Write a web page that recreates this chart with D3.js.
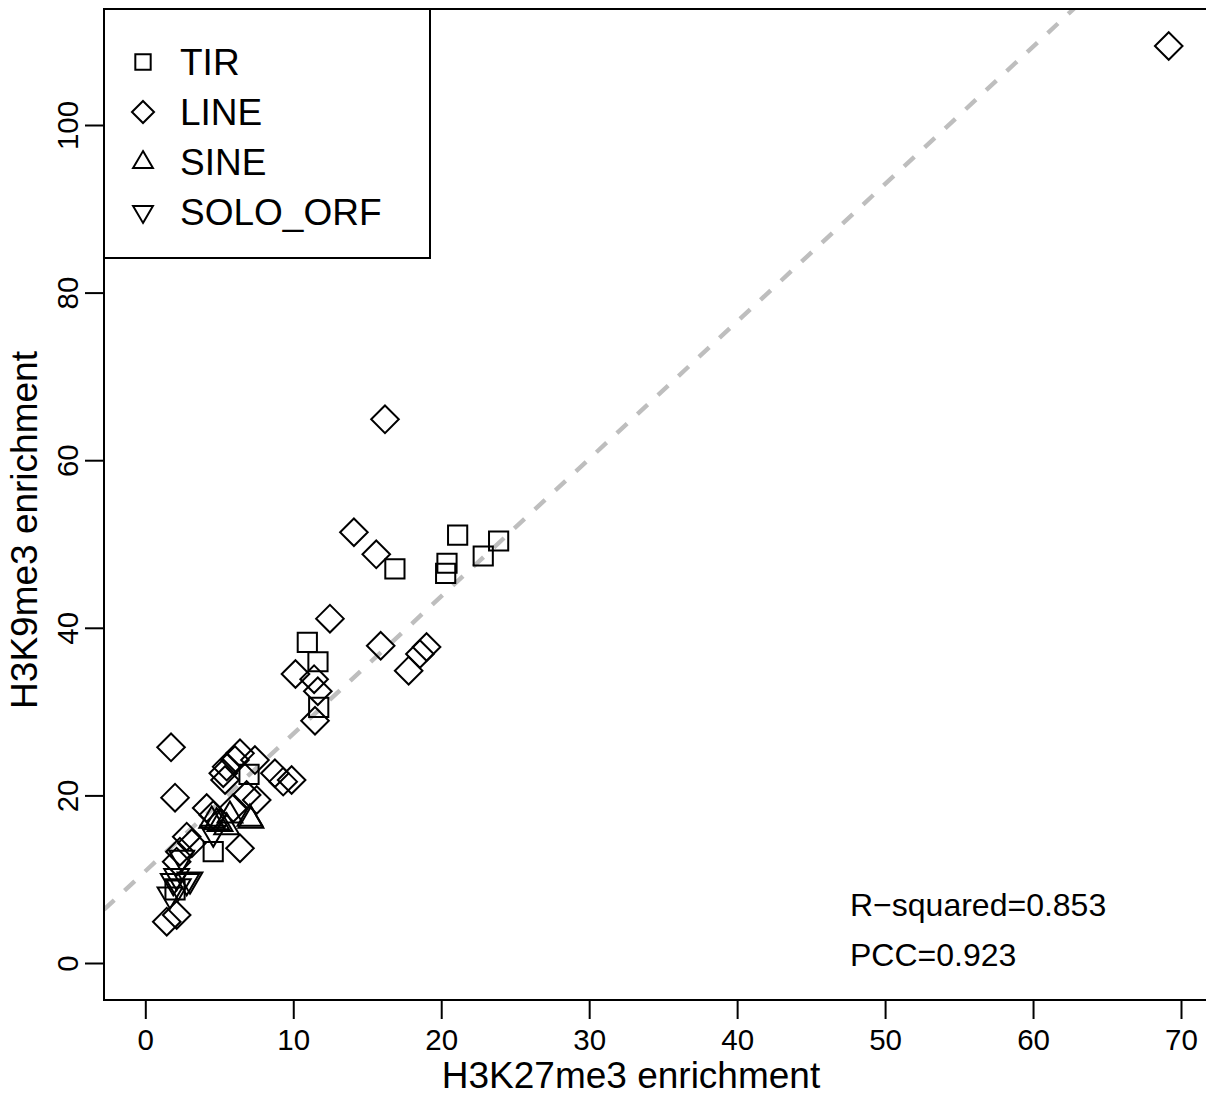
<!DOCTYPE html>
<html>
<head>
<meta charset="utf-8">
<script src="https://cdn.jsdelivr.net/npm/d3@7"></script>
<style>
  html, body { margin: 0; padding: 0; background: #fff; }
  svg { display: block; }
  text { font-family: "Liberation Sans", Arial, Helvetica, sans-serif; fill: #000; }
</style>
</head>
<body>
<svg id="chart" width="1206" height="1096"></svg>
<script>
// H3K27me3 vs H3K9me3 enrichment per transposon family
const seriesNames = ["TIR", "LINE", "SINE", "SOLO_ORF"];

const tirX = [21.11, 20.39, 20.30, 22.84, 23.88, 16.87, 10.95, 11.67, 11.72, 7.01, 4.59, 2.01];
const tirY = [51.07, 47.70, 46.50, 48.57, 50.36, 47.02, 38.27, 35.95, 30.51, 22.52, 13.28, 8.71];

const lineX = [69.17, 16.20, 14.10, 15.61, 12.48, 15.91, 19.01, 18.56, 17.80, 10.15, 11.41, 11.66,
               11.47, 1.74, 2.01, 6.40, 6.06, 7.41, 5.27, 5.50, 8.76, 9.32, 9.89, 6.85, 7.53,
               5.39, 4.15, 5.95, 6.40, 2.80, 3.14, 2.34, 2.12, 1.45, 2.12, 4.59];
const lineY = [109.43, 64.88, 51.40, 48.77, 41.09, 37.86, 37.71, 36.87, 34.88, 34.49, 33.87, 32.43,
               28.91, 25.74, 19.73, 25.02, 24.22, 24.22, 22.64, 23.43, 22.64, 21.64, 21.84, 20.05, 19.45,
               21.84, 18.50, 18.50, 13.69, 15.07, 14.28, 13.28, 12.09, 4.93, 5.73, 17.66];

const sineX = [7.07, 7.14, 4.82, 5.05, 5.50, 4.49, 5.72];
const sineY = [17.30, 17.06, 16.86, 16.67, 16.26, 17.06, 17.66];

const soloX = [2.46, 2.12, 3.02, 2.23, 1.67, 4.59, 2.80, 1.89];
const soloY = [12.49, 10.30, 9.90, 9.10, 8.11, 15.48, 9.70, 9.70];

const xTicks = [0, 10, 20, 30, 40, 50, 60, 70];
const yTicks = [0, 20, 40, 60, 80, 100];

// fitted line: y = intercept + slope * x
const fitIntercept = 10.95;
const fitSlope = 1.64;

const statLabels = ["R\u2212squared=0.853", "PCC=0.923"];

// ---- layout ----
const svg = d3.select("#chart");
const plotLeft = 104, plotTop = 9, plotBottom = 1000, plotRight = 1230;

const x = d3.scaleLinear().domain([0, 70]).range([145.3, 1181]);
const y = d3.scaleLinear().domain([0, 100]).range([963, 125]);

// marker shapes (centred on 0,0)
const shapes = {
  square: () => { const h = 9.6; return `M${-h},${-h}H${h}V${h}H${-h}Z`; },
  diamond: () => { const r = 13.8; return `M0,${-r}L${r},0L0,${r}L${-r},0Z`; },
  up: () => { const r = 13.6, xc = 12.4, yc = 7.6; return `M0,${-r}L${xc},${yc}L${-xc},${yc}Z`; },
  down: () => { const r = 13.6, xc = 12.4, yc = 7.6; return `M0,${r}L${xc},${-yc}L${-xc},${-yc}Z`; }
};
const seriesShape = ["square", "diamond", "up", "down"];

const series = [
  { name: seriesNames[0], xs: tirX, ys: tirY, shape: seriesShape[0] },
  { name: seriesNames[1], xs: lineX, ys: lineY, shape: seriesShape[1] },
  { name: seriesNames[2], xs: sineX, ys: sineY, shape: seriesShape[2] },
  { name: seriesNames[3], xs: soloX, ys: soloY, shape: seriesShape[3] }
];

// clip for plot region
svg.append("defs").append("clipPath").attr("id", "plotclip")
  .append("rect").attr("x", plotLeft).attr("y", plotTop)
  .attr("width", plotRight - plotLeft).attr("height", plotBottom - plotTop);

// dashed fit line
const x0 = x.invert(plotLeft), x1 = x.invert(plotRight);
svg.append("line")
  .attr("clip-path", "url(#plotclip)")
  .attr("x1", x(x0)).attr("y1", y(fitIntercept + fitSlope * x0))
  .attr("x2", x(x1)).attr("y2", y(fitIntercept + fitSlope * x1))
  .attr("stroke", "#bebebe").attr("stroke-width", 4.4)
  .attr("stroke-dasharray", "14,14");

// points
const pts = svg.append("g").attr("clip-path", "url(#plotclip)");
series.forEach(s => {
  pts.selectAll(null).data(d3.range(s.xs.length)).enter().append("path")
    .attr("d", shapes[s.shape]())
    .attr("transform", i => `translate(${x(s.xs[i])},${y(s.ys[i])})`)
    .attr("fill", "none").attr("stroke", "#000").attr("stroke-width", 2);
});

// plot box
svg.append("rect")
  .attr("x", plotLeft).attr("y", plotTop)
  .attr("width", plotRight - plotLeft).attr("height", plotBottom - plotTop)
  .attr("fill", "none").attr("stroke", "#000").attr("stroke-width", 2);

// x axis
const xAxis = d3.axisBottom(x).tickValues(xTicks).tickSize(19).tickFormat(d3.format("d"));
const gx = svg.append("g").attr("transform", `translate(0,${plotBottom})`).call(xAxis);
gx.select(".domain").attr("d", `M${x(0)},0H${x(70)}`).attr("stroke-width", 2);
gx.selectAll(".tick line").attr("stroke-width", 2);
gx.selectAll(".tick text").attr("font-size", 29.5).attr("font-family", "Liberation Sans, Arial, sans-serif")
  .attr("dy", null).attr("y", 50);

// y axis
const yAxis = d3.axisLeft(y).tickValues(yTicks).tickSize(19).tickFormat(d3.format("d"));
const gy = svg.append("g").attr("transform", `translate(${plotLeft},0)`).call(yAxis);
gy.select(".domain").attr("d", `M0,${y(0)}V${y(100)}`).attr("stroke-width", 2);
gy.selectAll(".tick line").attr("stroke-width", 2);
gy.selectAll(".tick text").attr("font-size", 29.5).attr("font-family", "Liberation Sans, Arial, sans-serif")
  .attr("x", null).attr("dy", null)
  .attr("text-anchor", "middle")
  .attr("transform", "translate(-26,0) rotate(-90)");

// axis titles
svg.append("text").attr("x", 631).attr("y", 1088).attr("text-anchor", "middle")
  .attr("font-size", 37).text("H3K27me3 enrichment");
svg.append("text").attr("transform", "translate(37,530) rotate(-90)").attr("text-anchor", "middle")
  .attr("font-size", 37).text("H3K9me3 enrichment");

// legend
const legendG = svg.append("g");
legendG.append("rect").attr("x", plotLeft).attr("y", plotTop).attr("width", 326).attr("height", 249)
  .attr("fill", "#fff").attr("stroke", "#000").attr("stroke-width", 2);
series.forEach((s, i) => {
  const cy = 62 + i * 50;
  legendG.append("path").attr("d", shapes[s.shape]())
    .attr("transform", `translate(143,${cy}) scale(0.8)`)
    .attr("fill", "none").attr("stroke", "#000").attr("stroke-width", 2 / 0.8);
  legendG.append("text").attr("x", 180).attr("y", cy + 13).attr("font-size", 37).text(s.name);
});

// statistics
statLabels.forEach((t, i) => {
  svg.append("text").attr("x", 850).attr("y", 916 + i * 50).attr("font-size", 32).text(t);
});
</script>
</body>
</html>
